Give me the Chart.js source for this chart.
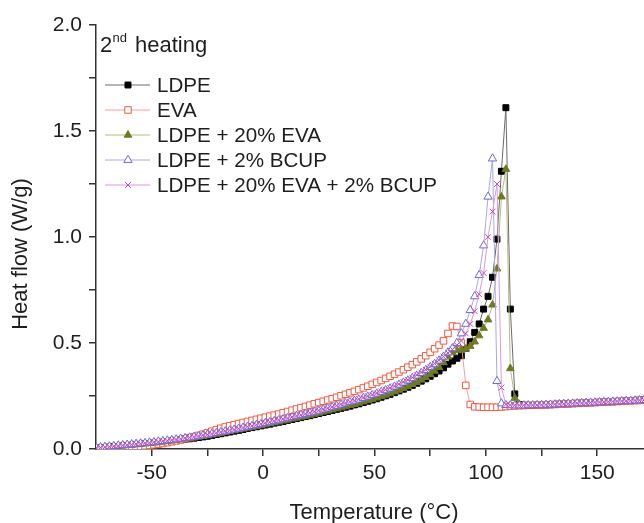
<!DOCTYPE html>
<html>
<head>
<meta charset="utf-8">
<script src="https://cdn.jsdelivr.net/npm/chart.js@4/dist/chart.umd.min.js"></script>
<style>
  html, body { margin: 0; padding: 0; background: #fff; overflow: hidden; }
  canvas { display: block; }
</style>
</head>
<body>
<canvas id="chart" width="644" height="523" style="width:644px;height:523px"></canvas>
<script>
// temperature grid (°C)
const temps = [
    -75, -73, -71, -69, -67, -65, -63, -61, -59, -57,
    -55, -53, -51, -49, -47, -45, -43, -41, -39, -37,
    -35, -33, -31, -29, -27, -25, -23, -21, -19, -17,
    -15, -13, -11, -9, -7, -5, -3, -1, 1, 3,
    5, 7, 9, 11, 13, 15, 17, 19, 21, 23,
    25, 27, 29, 31, 33, 35, 37, 39, 41, 43,
    45, 47, 49, 51, 53, 55, 57, 59, 61, 63,
    65, 67, 69, 71, 73, 75, 77, 79, 81, 83,
    85, 87, 89, 91, 93, 95, 97, 99, 101, 103,
    105, 107, 109, 111, 113, 115, 117, 119, 121, 123,
    125, 127, 129, 131, 133, 135, 137, 139, 141, 143,
    145, 147, 149, 151, 153, 155, 157, 159, 161, 163,
    165, 167, 169, 171
]

// heat flow (W/g)
const ldpe = [
    0.003, 0.005, 0.007, 0.009, 0.011, 0.012, 0.014, 0.016, 0.018, 0.020,
    0.022, 0.024, 0.026, 0.028, 0.030, 0.032, 0.035, 0.037, 0.040, 0.043,
    0.046, 0.048, 0.051, 0.054, 0.057, 0.060, 0.064, 0.068, 0.072, 0.076,
    0.080, 0.084, 0.088, 0.092, 0.097, 0.101, 0.105, 0.109, 0.113, 0.117,
    0.122, 0.126, 0.130, 0.135, 0.139, 0.144, 0.148, 0.153, 0.157, 0.162,
    0.167, 0.172, 0.177, 0.182, 0.187, 0.192, 0.197, 0.202, 0.208, 0.213,
    0.219, 0.225, 0.231, 0.237, 0.244, 0.251, 0.258, 0.266, 0.274, 0.282,
    0.291, 0.300, 0.310, 0.320, 0.331, 0.343, 0.355, 0.368, 0.383, 0.400,
    0.415, 0.428, 0.440, 0.475, 0.506, 0.550, 0.590, 0.660, 0.720, 0.810,
    0.990, 1.310, 1.610, 0.660, 0.260, 0.210, 0.206, 0.205, 0.205, 0.206,
    0.207, 0.208, 0.209, 0.210, 0.211, 0.212, 0.213, 0.214, 0.215, 0.216,
    0.217, 0.218, 0.219, 0.220, 0.221, 0.222, 0.223, 0.224, 0.225, 0.227,
    0.228, 0.229, 0.230, 0.231
]

const eva = [
    0.000, 0.001, 0.002, 0.003, 0.004, 0.005, 0.006, 0.008, 0.009, 0.011,
    0.013, 0.015, 0.017, 0.020, 0.023, 0.026, 0.030, 0.034, 0.038, 0.043,
    0.048, 0.053, 0.058, 0.064, 0.070, 0.077, 0.084, 0.091, 0.098, 0.104,
    0.110, 0.115, 0.120, 0.125, 0.130, 0.135, 0.140, 0.145, 0.150, 0.155,
    0.160, 0.165, 0.171, 0.177, 0.183, 0.189, 0.195, 0.201, 0.207, 0.213,
    0.219, 0.225, 0.231, 0.237, 0.244, 0.251, 0.258, 0.265, 0.272, 0.280,
    0.288, 0.296, 0.305, 0.314, 0.323, 0.333, 0.343, 0.353, 0.363, 0.374,
    0.386, 0.398, 0.411, 0.425, 0.440, 0.456, 0.473, 0.490, 0.510, 0.545,
    0.580, 0.578, 0.500, 0.300, 0.210, 0.199, 0.198, 0.197, 0.197, 0.197,
    0.197, 0.198, 0.200, 0.202, 0.203, 0.204, 0.205, 0.206, 0.206, 0.207,
    0.207, 0.208, 0.209, 0.210, 0.211, 0.212, 0.213, 0.214, 0.215, 0.216,
    0.217, 0.218, 0.219, 0.220, 0.221, 0.222, 0.223, 0.224, 0.225, 0.226,
    0.227, 0.228, 0.229, 0.230
]

const ldpeEva = [
    0.003, 0.005, 0.007, 0.009, 0.011, 0.013, 0.015, 0.017, 0.019, 0.021,
    0.023, 0.025, 0.027, 0.029, 0.031, 0.034, 0.036, 0.039, 0.042, 0.045,
    0.048, 0.051, 0.054, 0.057, 0.060, 0.063, 0.067, 0.071, 0.075, 0.079,
    0.083, 0.087, 0.091, 0.095, 0.099, 0.103, 0.107, 0.111, 0.115, 0.120,
    0.124, 0.128, 0.133, 0.137, 0.142, 0.146, 0.151, 0.155, 0.160, 0.165,
    0.170, 0.175, 0.180, 0.185, 0.190, 0.195, 0.200, 0.206, 0.211, 0.217,
    0.223, 0.229, 0.235, 0.241, 0.248, 0.255, 0.262, 0.270, 0.278, 0.286,
    0.295, 0.305, 0.315, 0.326, 0.338, 0.352, 0.368, 0.385, 0.408, 0.435,
    0.455, 0.465, 0.467, 0.472, 0.485, 0.506, 0.535, 0.570, 0.610, 0.680,
    0.850, 1.190, 1.320, 0.380, 0.240, 0.211, 0.206, 0.205, 0.205, 0.206,
    0.207, 0.208, 0.209, 0.210, 0.211, 0.212, 0.213, 0.214, 0.215, 0.216,
    0.217, 0.218, 0.219, 0.220, 0.221, 0.222, 0.223, 0.224, 0.225, 0.226,
    0.228, 0.229, 0.230, 0.231
]

const ldpeBcup = [
    0.006, 0.008, 0.010, 0.012, 0.014, 0.016, 0.018, 0.020, 0.022, 0.024,
    0.026, 0.028, 0.030, 0.032, 0.035, 0.037, 0.040, 0.042, 0.045, 0.048,
    0.051, 0.054, 0.057, 0.060, 0.064, 0.067, 0.071, 0.075, 0.079, 0.083,
    0.087, 0.091, 0.095, 0.100, 0.104, 0.108, 0.113, 0.117, 0.122, 0.126,
    0.131, 0.135, 0.140, 0.145, 0.150, 0.155, 0.160, 0.165, 0.170, 0.175,
    0.180, 0.186, 0.191, 0.197, 0.203, 0.209, 0.215, 0.221, 0.227, 0.233,
    0.240, 0.247, 0.254, 0.261, 0.269, 0.277, 0.285, 0.294, 0.303, 0.313,
    0.323, 0.334, 0.346, 0.358, 0.372, 0.386, 0.401, 0.417, 0.435, 0.455,
    0.475, 0.500, 0.545, 0.590, 0.655, 0.720, 0.820, 0.960, 1.190, 1.370,
    0.320, 0.215, 0.207, 0.206, 0.205, 0.205, 0.205, 0.206, 0.206, 0.207,
    0.207, 0.208, 0.209, 0.210, 0.211, 0.212, 0.213, 0.214, 0.215, 0.216,
    0.217, 0.218, 0.219, 0.220, 0.221, 0.222, 0.223, 0.224, 0.225, 0.226,
    0.227, 0.228, 0.229, 0.230
]

const ldpeEvaBcup = [
    0.005, 0.007, 0.009, 0.011, 0.013, 0.015, 0.017, 0.019, 0.021, 0.023,
    0.025, 0.027, 0.029, 0.032, 0.034, 0.037, 0.039, 0.042, 0.045, 0.048,
    0.051, 0.054, 0.058, 0.061, 0.065, 0.068, 0.072, 0.076, 0.080, 0.084,
    0.088, 0.092, 0.096, 0.101, 0.105, 0.109, 0.114, 0.118, 0.123, 0.127,
    0.132, 0.137, 0.141, 0.146, 0.151, 0.156, 0.161, 0.166, 0.171, 0.177,
    0.182, 0.188, 0.193, 0.199, 0.205, 0.211, 0.217, 0.223, 0.229, 0.236,
    0.243, 0.250, 0.257, 0.264, 0.272, 0.280, 0.288, 0.297, 0.306, 0.316,
    0.326, 0.337, 0.349, 0.361, 0.374, 0.388, 0.403, 0.419, 0.436, 0.453,
    0.470, 0.490, 0.510, 0.545, 0.590, 0.650, 0.730, 0.830, 1.000, 1.120,
    1.250, 0.290, 0.210, 0.207, 0.206, 0.206, 0.206, 0.206, 0.207, 0.207,
    0.208, 0.209, 0.210, 0.211, 0.212, 0.213, 0.214, 0.215, 0.216, 0.217,
    0.218, 0.219, 0.220, 0.221, 0.222, 0.223, 0.224, 0.225, 0.226, 0.227,
    0.228, 0.229, 0.230, 0.231
]

const seriesNames = ["LDPE", "EVA", "LDPE + 20% EVA", "LDPE + 2% BCUP", "LDPE + 20% EVA + 2% BCUP"]
const xTicks = [-50, -25, 0, 25, 50, 75, 100, 125, 150]
const yTicks = [0, 0.25, 0.5, 0.75, 1.0, 1.25, 1.5, 1.75, 2.0]

const FONT = '"Liberation Sans", Arial, Helvetica, sans-serif'
const TEXT = "#1e1e1e"

// marker look per series
const styles = [
    { line: "#6a6a6a", stroke: "#000000", fill: "#000000", point: "rect", radius: 4.2 },
    { line: "#f3a394", stroke: "#ee5b43", fill: "#ffffff", point: "rect", radius: 4.6 },
    { line: "#b5bb85", stroke: "#6f7a22", fill: "#6f7a22", point: "triangle", radius: 4.4 },
    { line: "#a8a8e6", stroke: "#6b6bd6", fill: "#ffffff", point: "triangle", radius: 4.8 },
    { line: "#dc98dc", stroke: "#c04ec0", fill: "#c04ec0", point: "crossRot", radius: 4.0 }
]

const values = [ldpe, eva, ldpeEva, ldpeBcup, ldpeEvaBcup]

const datasets = values.map((vals, i) => ({
    label: seriesNames[i],
    data: temps.map((t, k) => ({ x: t, y: vals[k] })),
    borderColor: styles[i].line,
    borderWidth: 1,
    pointStyle: styles[i].point,
    pointRadius: styles[i].radius,
    pointBorderColor: styles[i].stroke,
    pointBackgroundColor: styles[i].fill,
    pointBorderWidth: 1,
    tension: 0,
    order: 5 - i
}))

// legend with a line + marker, the "2nd heating" note and the axis titles
const legendBox = {
    id: "legendBox",
    afterDraw(chart) {
        const ctx = chart.ctx
        ctx.save()
        ctx.fillStyle = TEXT
        ctx.textBaseline = "alphabetic"
        ctx.font = "22px " + FONT
        ctx.fillText("2", 100, 52)
        ctx.font = "13px " + FONT
        ctx.fillText("nd", 112.5, 42)
        ctx.font = "22px " + FONT
        ctx.fillText("heating", 135, 52)

        ctx.textBaseline = "middle"
        seriesNames.forEach((name, i) => {
            const y = 85 + i * 25
            const s = styles[i]
            ctx.strokeStyle = s.line
            ctx.lineWidth = 1
            ctx.beginPath()
            ctx.moveTo(105, y)
            ctx.lineTo(150, y)
            ctx.stroke()
            ctx.fillStyle = s.fill
            ctx.strokeStyle = s.stroke
            Chart.helpers.drawPoint(ctx, { pointStyle: s.point, radius: s.radius, borderWidth: 1, rotation: 0 }, 128, y)
            ctx.fillStyle = TEXT
            ctx.font = "20.6px " + FONT
            ctx.fillText(name, 157, y + 1)
        })

        ctx.font = "22px " + FONT
        ctx.textAlign = "center"
        ctx.fillText("Temperature (°C)", 374, 513)
        ctx.translate(21, 254)
        ctx.rotate(-Math.PI / 2)
        ctx.fillText("Heat flow (W/g)", 0, 0)
        ctx.restore()
    }
}

new Chart(document.getElementById("chart"), {
    type: "line",
    data: { datasets },
    options: {
        responsive: false,
        animation: false,
        layout: { autoPadding: false, padding: { top: 25, right: 0, left: 0, bottom: 0 } },
        plugins: {
            legend: { display: false },
            tooltip: { enabled: false }
        },
        scales: {
            x: {
                type: "linear",
                min: -75,
                max: 171,
                afterBuildTicks: (scale) => { scale.ticks = xTicks.map(v => ({ value: v })) },
                afterFit: (scale) => {
                    scale.height = 74
                    scale.paddingLeft = 0
                    scale.paddingRight = 0
                },
                ticks: {
                    color: TEXT,
                    font: { family: FONT, size: 21 },
                    padding: 5,
                    maxRotation: 0,
                    autoSkip: false,
                    callback: (v) => (v % 50 === 0 ? String(v) : "")
                },
                grid: { drawOnChartArea: false, drawTicks: true, tickLength: 7, color: "#333", lineWidth: 1.5 },
                border: { color: "#333", width: 1.5 }
            },
            y: {
                min: 0,
                max: 2,
                afterBuildTicks: (scale) => { scale.ticks = yTicks.map(v => ({ value: v })) },
                afterFit: (scale) => {
                    scale.width = 96
                    scale.paddingTop = 0
                    scale.paddingBottom = 0
                },
                ticks: {
                    color: TEXT,
                    font: { family: FONT, size: 21 },
                    padding: 7,
                    autoSkip: false,
                    callback: (v) => (Math.abs(v * 2 - Math.round(v * 2)) < 1e-6 ? v.toFixed(1) : "")
                },
                grid: { drawOnChartArea: false, drawTicks: true, tickLength: 7, color: "#333", lineWidth: 1.5 },
                border: { color: "#333", width: 1.5 }
            }
        }
    },
    plugins: [legendBox]
})
</script>
</body>
</html>
